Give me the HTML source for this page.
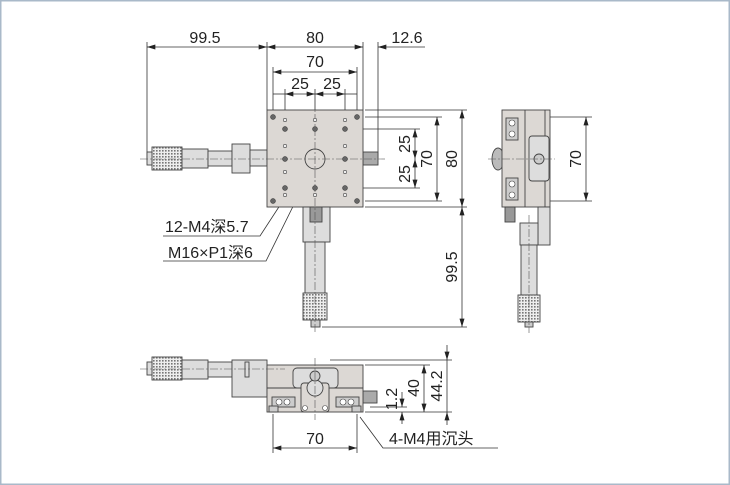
<!DOCTYPE html>
<html><head><meta charset="utf-8"><style>
html,body{margin:0;padding:0;background:#fff}
svg{display:block}
text{font-family:"Liberation Sans","Noto Sans CJK SC",sans-serif;fill:#222}
</style></head><body>
<svg width="730" height="485" viewBox="0 0 730 485" xmlns="http://www.w3.org/2000/svg">
<defs>
<marker id="a" viewBox="0 0 10 6" refX="10" refY="3" markerWidth="9" markerHeight="5" orient="auto-start-reverse" markerUnits="userSpaceOnUse"><path d="M0,0 L10,3 L0,6z" fill="#222"/></marker>
<pattern id="k" width="3" height="3" patternUnits="userSpaceOnUse"><rect width="3" height="3" fill="#eee"/><rect width="1.6" height="1.6" fill="#777"/></pattern>
</defs>
<rect x="0.5" y="0.5" width="729" height="484" fill="#fff" stroke="#a9b9c9" stroke-width="2"/>

<g stroke="#333" stroke-width="0.8" fill="none">
<line x1="147" y1="42" x2="147" y2="160"/><line x1="267" y1="42" x2="267" y2="110"/>
<line x1="363" y1="42" x2="363" y2="110"/><line x1="378" y1="42" x2="378" y2="158"/>
<line x1="147" y1="47" x2="267" y2="47" marker-start="url(#a)" marker-end="url(#a)"/>
<line x1="267" y1="47" x2="363" y2="47" marker-start="url(#a)" marker-end="url(#a)"/>
<line x1="378" y1="47" x2="425" y2="47" marker-start="url(#a)"/>
<line x1="273" y1="67" x2="273" y2="112"/><line x1="357" y1="67" x2="357" y2="112"/>
<line x1="273" y1="72" x2="357" y2="72" marker-start="url(#a)" marker-end="url(#a)"/>
<line x1="285" y1="89" x2="285" y2="118"/><line x1="345" y1="89" x2="345" y2="118"/><line x1="315" y1="89" x2="315" y2="110"/>
<line x1="273" y1="94" x2="285" y2="94"/><line x1="285" y1="94" x2="315" y2="94" marker-start="url(#a)" marker-end="url(#a)"/>
<line x1="315" y1="94" x2="345" y2="94" marker-start="url(#a)" marker-end="url(#a)"/><line x1="345" y1="94" x2="357" y2="94"/>
<line x1="365" y1="110" x2="467" y2="110"/><line x1="365" y1="207" x2="467" y2="207"/>
<line x1="365" y1="117" x2="442" y2="117"/><line x1="365" y1="201" x2="442" y2="201"/>
<line x1="350" y1="129" x2="420" y2="129"/><line x1="350" y1="188" x2="420" y2="188"/>
<line x1="415" y1="129" x2="415" y2="159" marker-start="url(#a)" marker-end="url(#a)"/>
<line x1="415" y1="159" x2="415" y2="188" marker-start="url(#a)" marker-end="url(#a)"/>
<line x1="437" y1="117" x2="437" y2="201" marker-start="url(#a)" marker-end="url(#a)"/>
<line x1="462" y1="110" x2="462" y2="207" marker-start="url(#a)" marker-end="url(#a)"/>
<line x1="462" y1="207" x2="462" y2="327" marker-start="url(#a)" marker-end="url(#a)"/>
<line x1="322" y1="327" x2="467" y2="327"/>
<line x1="540" y1="117" x2="592" y2="117"/><line x1="540" y1="201" x2="592" y2="201"/>
<line x1="586" y1="117" x2="586" y2="201" marker-start="url(#a)" marker-end="url(#a)"/>
<line x1="330" y1="360" x2="452" y2="360"/><line x1="365" y1="365" x2="430" y2="365"/>
<line x1="365" y1="412" x2="452" y2="412"/><line x1="370" y1="407" x2="407" y2="407"/>
<line x1="447" y1="345" x2="447" y2="360" marker-end="url(#a)"/><line x1="447" y1="360" x2="447" y2="412"/>
<line x1="447" y1="425" x2="447" y2="412" marker-end="url(#a)"/>
<line x1="424" y1="365" x2="424" y2="412" marker-start="url(#a)" marker-end="url(#a)"/>
<line x1="402" y1="392" x2="402" y2="407" marker-end="url(#a)"/><line x1="402" y1="424" x2="402" y2="412" marker-end="url(#a)"/>
<line x1="273" y1="414" x2="273" y2="453"/><line x1="357" y1="414" x2="357" y2="453"/>
<line x1="273" y1="448" x2="357" y2="448" marker-start="url(#a)" marker-end="url(#a)"/>
<polyline points="163,236 260,236 286,196"/>
<polyline points="163,261 266,261 312,168" /> 
<polyline points="498,448 383,448 360,417"/>
</g>

<g stroke="#444" stroke-width="0.9">
<rect x="152" y="147" width="30" height="23" fill="url(#k)"/>
<rect x="147" y="152" width="5" height="13" fill="#ddd"/>
<rect x="182" y="149" width="26" height="19" fill="#ddd"/>
<rect x="208" y="151" width="24" height="15" fill="#ddd"/>
<rect x="232" y="144" width="18" height="29" fill="#ddd"/>
<rect x="250" y="150" width="17" height="16" fill="#ddd"/>
<rect x="363" y="152" width="15" height="13" fill="#aaa"/>
<rect x="267" y="110" width="96" height="97" fill="#dcd8d4"/>
<rect x="303" y="207" width="27" height="35" fill="#ddd"/>
<rect x="310" y="207" width="12" height="15" fill="#999"/>
<rect x="305" y="242" width="20" height="51" fill="#ddd"/>
<rect x="303" y="293" width="24" height="27" fill="url(#k)"/>
<rect x="311" y="320" width="9" height="7" fill="#ccc"/>
<circle cx="315" cy="159" r="10" fill="#dcd8d4"/>
</g>
<g stroke="#555" stroke-width="0.6" stroke-dasharray="8,2,2,2" fill="none">
<line x1="140" y1="159" x2="385" y2="159"/><line x1="315" y1="100" x2="315" y2="333"/>
</g>
<g fill="#666" stroke="#333" stroke-width="0.5">
<circle cx="273" cy="117" r="2.5"/><circle cx="357" cy="117" r="2.5"/><circle cx="273" cy="201" r="2.5"/><circle cx="357" cy="201" r="2.5"/>
<circle cx="285" cy="129" r="2.5"/><circle cx="315" cy="129" r="2.5"/><circle cx="345" cy="129" r="2.5"/>
<circle cx="285" cy="159" r="2.5"/><circle cx="345" cy="159" r="2.5"/>
<circle cx="285" cy="188" r="2.5"/><circle cx="315" cy="188" r="2.5"/><circle cx="345" cy="188" r="2.5"/>
</g>
<g fill="#eee" stroke="#444" stroke-width="0.6">
<circle cx="285" cy="120" r="1.7"/><circle cx="315" cy="120" r="1.7"/><circle cx="345" cy="120" r="1.7"/>
<circle cx="285" cy="146" r="1.7"/><circle cx="345" cy="146" r="1.7"/><circle cx="285" cy="172" r="1.7"/><circle cx="345" cy="172" r="1.7"/>
<circle cx="285" cy="195" r="1.7"/><circle cx="315" cy="195" r="1.7"/><circle cx="345" cy="195" r="1.7"/>
</g>

<g stroke="#444" stroke-width="0.9">
<ellipse cx="498" cy="159" rx="6" ry="11" fill="#bbb"/>
<rect x="502" y="110" width="48" height="97" fill="#dcd8d4"/>
<line x1="525" y1="110" x2="525" y2="207"/><line x1="545" y1="110" x2="545" y2="207"/>
<rect x="506" y="118" width="12" height="22" fill="#ccc"/><rect x="506" y="178" width="12" height="22" fill="#ccc"/>
<rect x="529" y="136" width="20" height="45" rx="3" fill="#ddd"/>
<circle cx="539" cy="159" r="5" fill="#ccc"/>
<rect x="505" y="207" width="10" height="15" fill="#999"/>
<rect x="538" y="207" width="12" height="38" fill="#ddd"/>
<rect x="520" y="223" width="18" height="22" fill="#ddd"/>
<rect x="521" y="245" width="16" height="50" fill="#ddd"/>
<rect x="518" y="295" width="22" height="27" fill="url(#k)"/>
<rect x="525" y="322" width="8" height="5" fill="#ccc"/>
</g>
<g fill="#fff" stroke="#444" stroke-width="0.6"><circle cx="512" cy="123" r="3"/><circle cx="512" cy="134" r="3"/><circle cx="512" cy="184" r="3"/><circle cx="512" cy="195" r="3"/></g>
<line x1="488" y1="159" x2="555" y2="159" stroke="#555" stroke-width="0.6" stroke-dasharray="8,2,2,2"/>
<line x1="529" y1="215" x2="529" y2="333" stroke="#555" stroke-width="0.6" stroke-dasharray="8,2,2,2"/>

<g stroke="#444" stroke-width="0.9">
<rect x="152" y="357" width="30" height="23" fill="url(#k)"/>
<rect x="147" y="362" width="5" height="13" fill="#ddd"/>
<rect x="182" y="360" width="26" height="19" fill="#ddd"/>
<rect x="208" y="362" width="24" height="15" fill="#ddd"/>
<rect x="232" y="360" width="35" height="37" fill="#ddd"/>
<rect x="245" y="362" width="4" height="15" fill="#ddd"/>
<rect x="363" y="391" width="14" height="12" fill="#aaa"/>
<rect x="267" y="365" width="96" height="47" fill="#dcd8d4"/>
<line x1="267" y1="388" x2="363" y2="388"/>
<rect x="293" y="368" width="45" height="20" rx="4" fill="#ddd"/>
<rect x="301" y="383" width="28" height="29" rx="3" fill="#dcd8d4"/>
<circle cx="315" cy="388" r="8" fill="#ddd"/>
<circle cx="315" cy="376" r="5" fill="#ccc"/>
<rect x="272" y="397" width="23" height="10" fill="#ccc"/><rect x="336" y="397" width="23" height="10" fill="#ccc"/>
<rect x="269" y="406" width="9" height="6" fill="#ccc"/><rect x="352" y="406" width="9" height="6" fill="#ccc"/>
</g>
<g fill="#fff" stroke="#444" stroke-width="0.6"><circle cx="279" cy="402" r="3"/><circle cx="287" cy="402" r="3"/><circle cx="343" cy="402" r="3"/><circle cx="351" cy="402" r="3"/><circle cx="305" cy="408" r="2.5"/><circle cx="325" cy="408" r="2.5"/></g>
<line x1="140" y1="369" x2="285" y2="369" stroke="#555" stroke-width="0.6" stroke-dasharray="8,2,2,2"/>
<line x1="315" y1="358" x2="315" y2="420" stroke="#555" stroke-width="0.6" stroke-dasharray="8,2,2,2"/>

<g font-size="16">
<text x="205" y="43" text-anchor="middle">99.5</text>
<text x="315" y="43" text-anchor="middle">80</text>
<text x="407" y="43" text-anchor="middle">12.6</text>
<text x="315" y="67" text-anchor="middle">70</text>
<text x="300" y="89" text-anchor="middle">25</text>
<text x="332" y="89" text-anchor="middle">25</text>
<text x="165" y="232">12-M4深5.7</text>
<text x="168" y="258">M16×P1深6</text>
<text x="315" y="444" text-anchor="middle">70</text>
<text x="389" y="444">4-M4用沉头</text>
<text transform="translate(410,144) rotate(-90)" text-anchor="middle">25</text>
<text transform="translate(410,174) rotate(-90)" text-anchor="middle">25</text>
<text transform="translate(432,159) rotate(-90)" text-anchor="middle">70</text>
<text transform="translate(457,159) rotate(-90)" text-anchor="middle">80</text>
<text transform="translate(457,267) rotate(-90)" text-anchor="middle">99.5</text>
<text transform="translate(581,159) rotate(-90)" text-anchor="middle">70</text>
<text transform="translate(419,388) rotate(-90)" text-anchor="middle">40</text>
<text transform="translate(442,386) rotate(-90)" text-anchor="middle">44.2</text>
<text transform="translate(397,399) rotate(-90)" text-anchor="middle">1.2</text>
</g>
</svg>
</body></html>
